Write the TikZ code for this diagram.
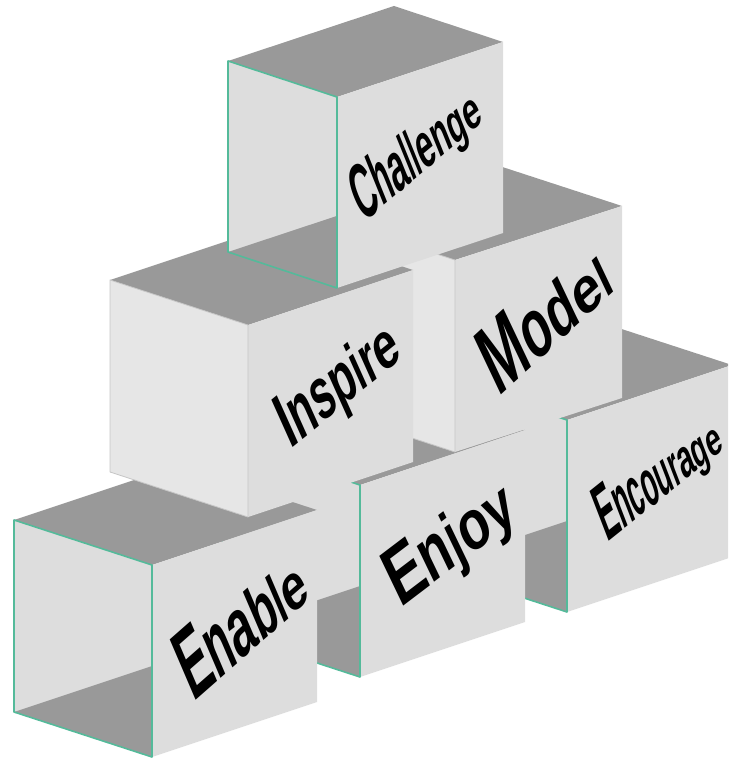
\documentclass[tikz,border=0pt]{standalone}
\usepackage{fontspec}
\newfontfamily\wfont{Liberation Sans}
\definecolor{topc}{HTML}{999999}
\definecolor{facec}{HTML}{DDDDDD}
\definecolor{lfacec}{HTML}{E6E6E6}
\definecolor{edgec}{HTML}{C6C6C6}
\definecolor{tealc}{RGB}{84,186,154}
\tikzset{
  topface/.style={fill=topc},
  rface/.style={fill=facec},
  lface/.style={fill=lfacec, draw=edgec, line width=0.8pt, line join=round},
  innerwall/.style={fill=facec},
  floorface/.style={fill=topc},
  tealframe/.style={draw=tealc, line width=1.6pt, line join=round},
  wl/.style={inner sep=0pt, outer sep=0pt, anchor=base west,
     font=\wfont\bfseries\fontsize{10}{12}\selectfont, text=black}
}
% corners of a box: F=(#1,#2), left vector (#3,#4), right vector (#5,#6), height #7
\newcommand\bxcorners[7]{%
  \pgfmathsetmacro\bxFx{#1}\pgfmathsetmacro\bxFy{#2}%
  \pgfmathsetmacro\bxLx{#1+#3}\pgfmathsetmacro\bxLy{#2+#4}%
  \pgfmathsetmacro\bxRx{#1+#5}\pgfmathsetmacro\bxRy{#2+#6}%
  \pgfmathsetmacro\bxBx{#1+#3+#5}\pgfmathsetmacro\bxBy{#2+#4+#6}%
  \pgfmathsetmacro\bxFby{#2+#7}\pgfmathsetmacro\bxLby{#2+#4+#7}%
  \pgfmathsetmacro\bxRby{#2+#6+#7}%
  \pgfmathsetmacro\bxKy{#2+#4+#7-(#3)*(#6)/(#5)}%
}
\newcommand\openbox[7]{%
  \bxcorners{#1}{#2}{#3}{#4}{#5}{#6}{#7}%
  \fill[topface] (\bxFx,\bxFy) -- (\bxLx,\bxLy) -- (\bxBx,\bxBy) -- (\bxRx,\bxRy) -- cycle;
  \fill[rface] (\bxFx,\bxFy) -- (\bxRx,\bxRy) -- (\bxRx,\bxRby) -- (\bxFx,\bxFby) -- cycle;
  \fill[innerwall] (\bxFx,\bxFy) -- (\bxLx,\bxLy) -- (\bxLx,\bxLby) -- (\bxFx,\bxFby) -- cycle;
  \fill[floorface] (\bxLx,\bxLby) -- (\bxFx,\bxKy) -- (\bxFx,\bxFby) -- cycle;
  \draw[tealframe] (\bxFx,\bxFy) -- (\bxLx,\bxLy) -- (\bxLx,\bxLby) -- (\bxFx,\bxFby) -- cycle;
}
\newcommand\closedbox[7]{%
  \bxcorners{#1}{#2}{#3}{#4}{#5}{#6}{#7}%
  \fill[topface] (\bxFx,\bxFy) -- (\bxLx,\bxLy) -- (\bxBx,\bxBy) -- (\bxRx,\bxRy) -- cycle;
  \fill[rface] (\bxFx,\bxFy) -- (\bxRx,\bxRy) -- (\bxRx,\bxRby) -- (\bxFx,\bxFby) -- cycle;
  \filldraw[lface] (\bxFx,\bxFy) -- (\bxLx,\bxLy) -- (\bxLx,\bxLby) -- (\bxFx,\bxFby) -- cycle;
}
% word with fading height: #1,#2 baseline start; #3 baseline angle; #4 up angle;
% #5 px per em along baseline; #6 height px/em at start; #7 at end; #8 total em;
% #9 letters as letter/regular width/bold width
\newcommand\fadeword[9]{%
  \gdef\fwcum{0}%
  \foreach \fwch/\fww/\fwbw in {#9}{%
    \pgfmathsetmacro\fwxs{\fwcum}%
    \pgfmathsetmacro\fwxm{\fwxs+\fww/2}%
    \pgfmathsetmacro\fwhh{#6+(#7-#6)*\fwxm/#8}%
    \pgfmathsetmacro\fwpx{#1+#5*\fwxs*cos(#3)}%
    \pgfmathsetmacro\fwpy{#2-#5*\fwxs*sin(#3)}%
    \pgfmathsetmacro\fwsx{#5*\fww/\fwbw/10}%
    \pgfmathsetmacro\fwa{\fwsx*cos(#3)}%
    \pgfmathsetmacro\fwb{\fwsx*sin(#3)}%
    \pgfmathsetmacro\fwc{\fwhh/10*cos(#4)}%
    \pgfmathsetmacro\fwd{\fwhh/10*sin(#4)}%
    \begin{scope}[shift={(\fwpx,\fwpy)}]
      \node[wl, cm={\fwa,\fwb,\fwc,\fwd,(0,0)}] at (0,0) {\fwch};
    \end{scope}
    \pgfmathsetmacro\fwxe{\fwxs+\fww}%
    \xdef\fwcum{\fwxe}%
  }%
}
\begin{document}
\begin{tikzpicture}[x=1pt,y=-1pt]
\useasboundingbox (0,0) rectangle (728,759);
\clip (0,0) rectangle (728,759);
% bottom row, back to front
\openbox{567}{420}{-138}{-45}{165}{-55}{192}   % Encourage
\openbox{360}{485}{-138}{-45}{165}{-55}{192}   % Enjoy
\closedbox{455}{260}{-138}{-45}{167}{-54}{192} % Model
\openbox{152}{565}{-138}{-45}{165}{-55}{192}   % Enable
\closedbox{248}{325}{-138}{-45}{165}{-55}{192} % Inspire
\openbox{337}{97}{-109}{-36}{166}{-55}{191}    % Challenge
% words
\fadeword{363}{223}{40}{112}{35.2}{78}{48}{4.502}%
  {C/0.722/0.722,h/0.556/0.611,a/0.556/0.556,l/0.222/0.278,l/0.222/0.278,e/0.556/0.556,n/0.556/0.611,g/0.556/0.611,e/0.556/0.556}
\fadeword{290}{449.6}{39}{114.2}{48.8}{76}{62}{3.001}%
  {I/0.278/0.278,n/0.556/0.611,s/0.5/0.556,p/0.556/0.611,i/0.222/0.278,r/0.333/0.389,e/0.556/0.556}
\fadeword{498.8}{397.9}{42.6}{115.4}{58.5}{101}{52}{2.723}%
  {M/0.833/0.833,o/0.556/0.611,d/0.556/0.611,e/0.556/0.556,l/0.222/0.278}
\fadeword{193}{702.7}{41.3}{113.2}{51}{100}{58}{3.113}%
  {E/0.667/0.667,n/0.556/0.611,a/0.556/0.556,b/0.556/0.611,l/0.222/0.278,e/0.556/0.556}
\fadeword{400.2}{608.9}{37.2}{115.7}{59.8}{83}{62}{2.501}%
  {E/0.667/0.667,n/0.556/0.611,j/0.222/0.278,o/0.556/0.611,y/0.5/0.556}
\fadeword{607}{542.6}{38.6}{111.1}{31.2}{80}{42}{4.836}%
  {E/0.667/0.667,n/0.556/0.611,c/0.5/0.556,o/0.556/0.611,u/0.556/0.611,r/0.333/0.389,a/0.556/0.556,g/0.556/0.611,e/0.556/0.556}
\end{tikzpicture}
\end{document}
